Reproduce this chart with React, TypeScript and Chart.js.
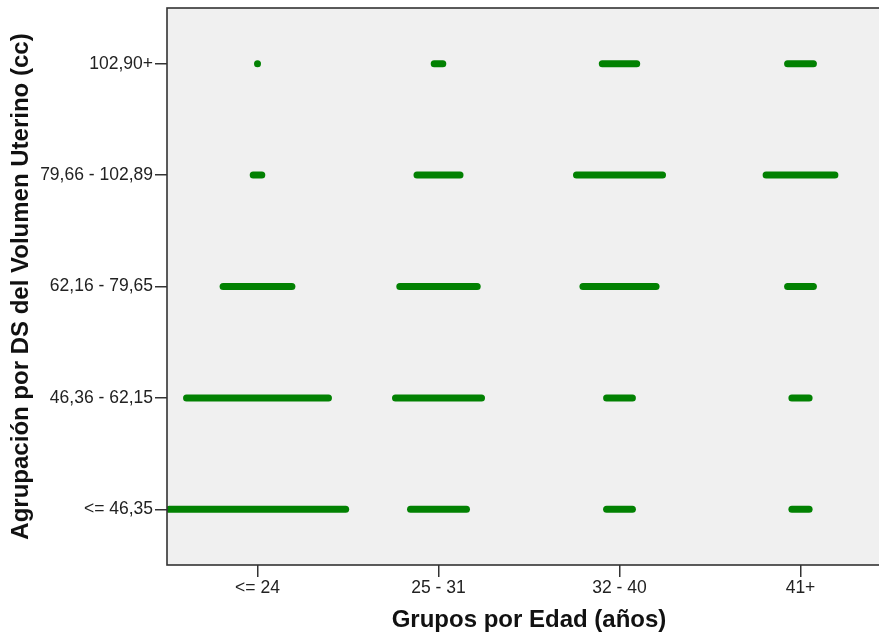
import React, { useEffect, useRef } from "react";
import { Chart, registerables } from "chart.js";

Chart.register(...registerables);

// Categories
const ageGroups = ["<= 24", "25 - 31", "32 - 40", "41+"];
const volumeGroups = ["<= 46,35", "46,36 - 62,15", "62,16 - 79,65", "79,66 - 102,89", "102,90+"];

// Counts (stacked dots) per age group, one array per volume group
const countsVolLe4635 = [42, 14, 7, 5];
const countsVol4636 = [34, 21, 7, 5];
const countsVol6216 = [17, 19, 18, 7];
const countsVol7966 = [3, 11, 21, 17];
const countsVol10290 = [1, 3, 9, 7];

const xTitle = "Grupos por Edad (años)";
const yTitle = "Agrupación por DS del Volumen Uterino (cc)";

// style constants
const DOT_STEP = 4.3 / 181; // horizontal spacing between stacked dots, in category units
const GREEN = "#028102";
const FONT = "'Liberation Sans', Arial, sans-serif";

export default function App() {
  const canvasRef = useRef<HTMLCanvasElement | null>(null);

  useEffect(() => {
    document.body.style.margin = "0";
    const canvas = canvasRef.current;
    if (!canvas) return;

    const rows = [countsVolLe4635, countsVol4636, countsVol6216, countsVol7966, countsVol10290];
    const datasets: any[] = [];
    rows.forEach((row, r) => {
      row.forEach((n, c) => {
        const half = ((n - 1) / 2) * DOT_STEP;
        datasets.push({
          type: "line",
          data: [
            { x: c - half, y: r },
            { x: c + half, y: r },
          ],
          borderColor: GREEN,
          backgroundColor: GREEN,
          borderWidth: 7,
          borderCapStyle: "round",
          pointRadius: 0,
          pointHoverRadius: 0,
          showLine: true,
          fill: false,
          clip: 0,
        });
      });
    });

    const framePlugin = {
      id: "frame",
      beforeDraw(chart: any) {
        const { ctx, chartArea } = chart;
        ctx.save();
        ctx.fillStyle = "#f0f0f0";
        ctx.fillRect(chartArea.left, chartArea.top, chartArea.right - chartArea.left, chartArea.bottom - chartArea.top);
        ctx.restore();
      },
      afterDatasetsDraw(chart: any) {
        const { ctx, chartArea } = chart;
        ctx.save();
        ctx.strokeStyle = "#333";
        ctx.lineWidth = 1.6;
        ctx.strokeRect(chartArea.left, chartArea.top, chartArea.right - chartArea.left, chartArea.bottom - chartArea.top);
        ctx.restore();
      },
    };

    const chart = new Chart(canvas, {
      type: "scatter",
      data: { datasets },
      options: {
        responsive: false,
        animation: false,
        devicePixelRatio: 1,
        events: [],
        layout: { padding: { top: 8, left: 0, right: 0, bottom: 0 } },
        plugins: { legend: { display: false }, tooltip: { enabled: false } },
        scales: {
          x: {
            type: "linear",
            min: -0.5,
            max: 3.5,
            afterBuildTicks: (s: any) => {
              s.ticks = ageGroups.map((_, i) => ({ value: i }));
            },
            afterFit: (s: any) => {
              s.height = 70;
              s.paddingLeft = 0;
              s.paddingRight = 0;
            },
            ticks: {
              callback: (v: any) => ageGroups[v as number] ?? "",
              font: { family: FONT, size: 17.5 },
              color: "#222",
              padding: 1,
              maxRotation: 0,
              autoSkip: false,
            },
            grid: { drawOnChartArea: false, drawTicks: true, tickLength: 12, color: "#333", lineWidth: 1.5 },
            border: { display: false },
            title: {
              display: true,
              text: xTitle,
              font: { family: FONT, size: 24, weight: "bold" },
              color: "#111",
              padding: { top: 0, bottom: 0 },
            },
          },
          y: {
            type: "linear",
            min: -0.5,
            max: 4.5,
            afterBuildTicks: (s: any) => {
              s.ticks = volumeGroups.map((_, i) => ({ value: i }));
            },
            afterFit: (s: any) => {
              s.width = 167;
              s.paddingTop = 0;
              s.paddingBottom = 0;
            },
            ticks: {
              callback: (v: any) => volumeGroups[v as number] ?? "",
              font: { family: FONT, size: 17.5 },
              color: "#222",
              padding: 2,
              autoSkip: false,
            },
            grid: { drawOnChartArea: false, drawTicks: true, tickLength: 12, color: "#333", lineWidth: 1.5 },
            border: { display: false },
            title: {
              display: true,
              text: yTitle,
              font: { family: FONT, size: 24, weight: "bold" },
              color: "#111",
              padding: { top: 7, bottom: 0 },
            },
          },
        },
      },
      plugins: [framePlugin],
    });

    return () => chart.destroy();
  }, []);

  return (
    <div style={{ width: 879, height: 635, overflow: "hidden", background: "#fff" }}>
      <canvas ref={canvasRef} width={891} height={635} style={{ display: "block" }} />
    </div>
  );
}
